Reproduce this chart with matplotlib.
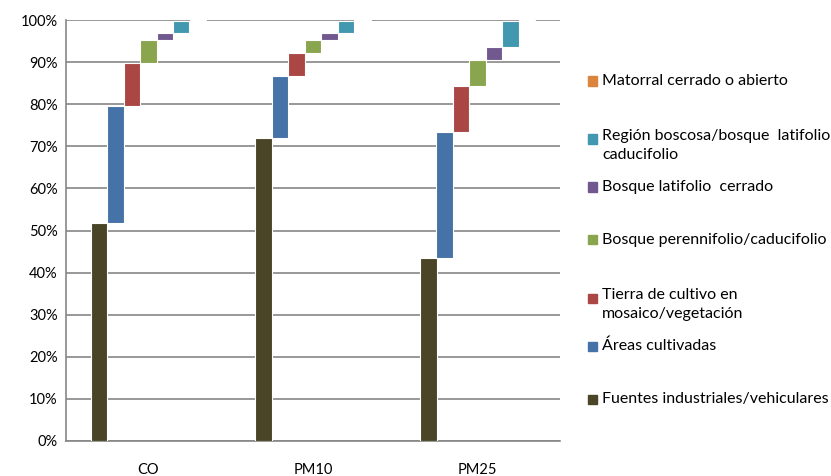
import numpy as np
import matplotlib.pyplot as plt
from matplotlib.patches import Rectangle

# categorias y series (valores en %)
categorias = ["CO", "PM10", "PM25"]
series = ["Fuentes industriales/vehiculares", "Áreas cultivadas",
          "Tierra de cultivo en\nmosaico/vegetación", "Bosque perennifolio/caducifolio",
          "Bosque latifolio  cerrado", "Región boscosa/bosque  latifolio\ncaducifolio",
          "Matorral cerrado o abierto"]
fuentes = [51.7, 72.0, 43.4]
areas = [27.8, 14.8, 30.0]
tierra = [10.2, 5.3, 10.9]
perenn = [5.5, 3.2, 6.2]
latif = [1.7, 1.6, 3.2]
region = [2.8, 2.8, 6.0]
matorral = [0.3, 0.3, 0.3]
colores = ["#4A4526", "#4572A7", "#AA4643", "#89A54E", "#71588F", "#4198AF", "#DB843D"]

plt.rcParams['font.family'] = ['Lato', 'DejaVu Sans']

valores = np.array([fuentes, areas, tierra, perenn, latif, region, matorral])
bases = np.vstack([np.zeros(3), np.cumsum(valores, axis=0)[:-1]])

fig = plt.figure(figsize=(8.31, 4.76), dpi=100)
ax = fig.add_axes([66 / 831, 1 - 441 / 476, (560 - 66) / 831, 421 / 476])

x = np.arange(len(categorias))
w = 0.1
for j in range(len(series)):
    ax.bar(x + (j - 3) * w, valores[j], w, bottom=bases[j], color=colores[j],
           edgecolor="white", linewidth=0.8, zorder=3)

ax.set_xlim(-0.5, 2.5)
ax.set_ylim(0, 100)
ax.set_yticks(np.arange(0, 101, 10))
ax.set_yticklabels([f"{v}%" for v in range(0, 101, 10)], fontsize=10.5)
ax.set_xticks(x)
ax.set_xticklabels(categorias, fontsize=10.5)
ax.tick_params(length=0, pad=6)
ax.tick_params(axis="x", pad=16)
ax.yaxis.grid(True, color="#868686", linewidth=1.2, zorder=0)
for s in ["top", "right"]:
    ax.spines[s].set_visible(False)
for s in ["left", "bottom"]:
    ax.spines[s].set_color("#868686")
    ax.spines[s].set_linewidth(1.2)

# leyenda manual (orden invertido)
y0 = 81
paso = 53
for k, j in enumerate(range(len(series) - 1, -1, -1)):
    yy = y0 + k * paso
    dos = "\n" in series[j]
    my = yy + 5 if dos else yy
    fig.patches.append(Rectangle((588 / 831, 1 - (my + 4.5) / 476), 9 / 831, 9 / 476,
                                 transform=fig.transFigure, color=colores[j]))
    ty = yy + 11.5 if dos else yy
    fig.text(602 / 831, 1 - ty / 476, series[j], fontsize=11.5, va="center", ha="left",
             linespacing=1.45)

fig.savefig("out.png", dpi=100)
